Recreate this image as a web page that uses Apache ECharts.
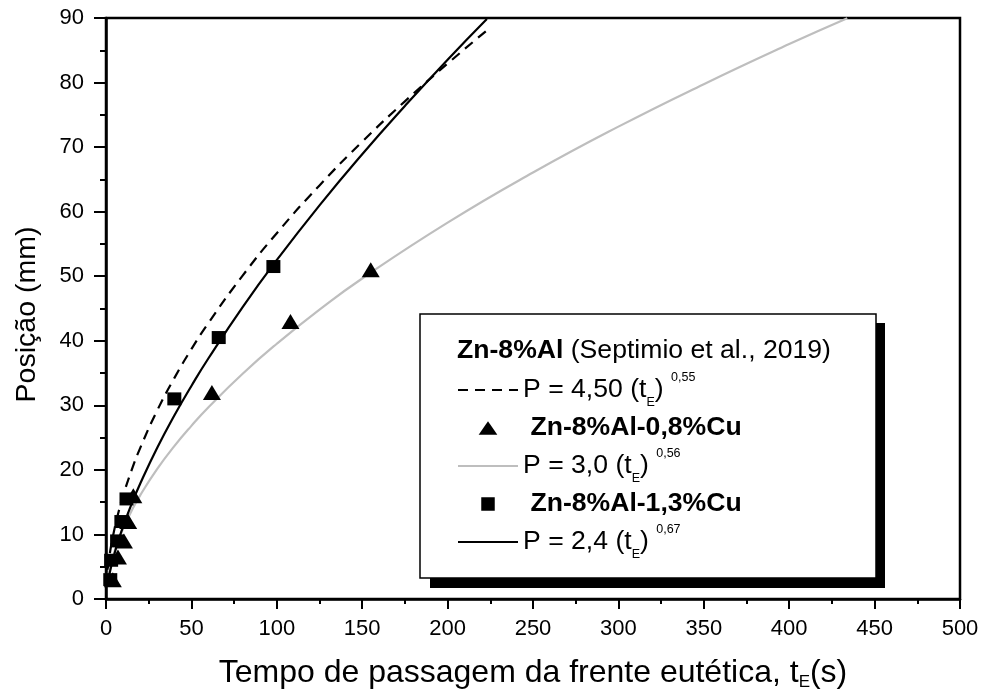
<!DOCTYPE html>
<html><head><meta charset="utf-8">
<script src="https://cdn.jsdelivr.net/npm/echarts@6/dist/echarts.min.js"></script>
<style>html,body{margin:0;padding:0;background:#fff}#c{width:984px;height:695px}</style>
</head><body><div id="c"></div>
<script>
const FONT = "'Liberation Sans', Arial, sans-serif";

// Measured points (Zn-8%Al-0,8%Cu : triangles)
const triTime = [4, 7, 10.5, 13, 16, 62, 108, 155];
const triPos  = [3, 6.5, 9, 12, 16, 32, 43, 51];
// Measured points (Zn-8%Al-1,3%Cu : squares)
const sqTime = [2.5, 3, 6.5, 9, 12, 40, 66, 98];
const sqPos  = [3, 6, 9, 12, 15.5, 31, 40.5, 51.5];

// Fitted curves
const dashT = [1,2,3,5,7,10,15,20,30,40,50,60,80,100,125,150,175,200,224];
const dashP = [4.50,6.59,8.24,10.90,13.12,15.97,19.95,23.38,29.22,34.22,38.70,42.77,50.10,56.67,64.07,70.83,77.09,82.94,88.30];
const grayT = [1,2,3,5,7,10,15,20,30,40,50,60,80,100,125,150,200,250,300,350,400,434];
const grayP = [3.00,4.42,5.55,7.39,8.92,10.89,13.67,16.06,20.15,23.68,26.82,29.70,34.90,39.54,44.82,49.65,58.30,66.06,73.17,79.75,85.96,89.97];
const blackT = [1,2,3,5,7,10,15,20,30,40,50,60,80,100,125,150,175,200,223];
const blackP = [2.40,3.82,5.01,7.06,8.84,11.22,14.73,17.86,23.43,28.42,33.00,37.29,45.22,52.51,60.98,68.90,76.37,83.55,89.86];

const legendNames = ['P = 4,50 (tE) 0,55', 'Zn-8%Al-0,8%Cu', 'P = 3,0 (tE) 0,56', 'Zn-8%Al-1,3%Cu', 'P = 2,4 (tE) 0,67'];
const legendRichText = [
  'P = 4,50 (t{sub|E}) {sup|0,55}',
  ' {b|Zn-8%Al-0,8%Cu}',
  'P = 3,0 (t{sub|E}) {sup|0,56}',
  ' {b|Zn-8%Al-1,3%Cu}',
  'P = 2,4 (t{sub|E}) {sup|0,67}'
];
const headerBold = 'Zn-8%Al';
const headerRest = ' (Septimio et al., 2019)';
const xTitle = 'Tempo de passagem da frente eutética, t{sub|E}(s)';
const yTitle = 'Posição (mm)';

function zip(a, b) { return a.map((v, i) => [v, b[i]]); }

const hideSym = {color: 'rgba(0,0,0,0)', borderWidth: 0, opacity: 0};
const legendData = [
  {name: legendNames[0], itemStyle: hideSym},
  {name: legendNames[1], icon: 'path://M0,13 L9,0 L18,13 Z'},
  {name: legendNames[2], itemStyle: hideSym},
  {name: legendNames[3], icon: 'path://M0,0 L12,0 L12,12 L0,12 Z'},
  {name: legendNames[4], itemStyle: hideSym}
];

const chart = echarts.init(document.getElementById('c'), null, {renderer: 'canvas'});
const option = {
  backgroundColor: '#fff',
  animation: false,
  grid: {left: 106, right: 24, top: 18, bottom: 96, show: true, borderColor: '#000', borderWidth: 2.5, containLabel: false, outerBoundsMode: 'none'},
  xAxis: {
    type: 'value', min: 0, max: 500, interval: 50,
    name: xTitle, nameLocation: 'middle', nameGap: 56,
    nameTextStyle: {
      fontFamily: FONT, fontSize: 32, lineHeight: 36, color: '#000',
      rich: {sub: {fontFamily: FONT, fontSize: 17, lineHeight: 7, verticalAlign: 'bottom', color: '#000'}}
    },
    axisLine: {onZero: false, lineStyle: {color: '#000', width: 2.5}},
    axisTick: {inside: false, length: 10, lineStyle: {color: '#000', width: 2}},
    minorTick: {show: true, splitNumber: 2, length: 5, lineStyle: {color: '#000', width: 2}},
    axisLabel: {margin: 18, fontFamily: FONT, fontSize: 22, lineHeight: 24, color: '#000'},
    splitLine: {show: false}, minorSplitLine: {show: false}
  },
  yAxis: {
    type: 'value', min: 0, max: 90, interval: 10,
    name: yTitle, nameLocation: 'middle', nameGap: 64,
    nameTextStyle: {fontFamily: FONT, fontSize: 28.5, color: '#000', padding: [0, 12, 0, 0]},
    axisLine: {onZero: false, lineStyle: {color: '#000', width: 2.5}},
    axisTick: {inside: false, length: 12, lineStyle: {color: '#000', width: 2}},
    minorTick: {show: true, splitNumber: 2, length: 6, lineStyle: {color: '#000', width: 2}},
    axisLabel: {margin: 22, fontFamily: FONT, fontSize: 22, color: '#000'},
    splitLine: {show: false}, minorSplitLine: {show: false}
  },
  legend: {
    show: true, orient: 'vertical', left: 457, top: 371, padding: 0,
    itemWidth: 60, itemHeight: 13.5, itemGap: 0, z: 20,
    symbolKeepAspect: true,
    selectedMode: false,
    data: legendData,
    formatter: function (name) { return legendRichText[legendNames.indexOf(name)]; },
    textStyle: {
      fontFamily: FONT, fontSize: 26.6, lineHeight: 38, color: '#000',
      rich: {
        b: {fontFamily: FONT, fontSize: 26.6, lineHeight: 38, fontWeight: 'bold', color: '#000'},
        sub: {fontFamily: FONT, fontSize: 12.5, lineHeight: 14, verticalAlign: 'bottom', color: '#000'},
        sup: {fontFamily: FONT, fontSize: 12.5, lineHeight: 14, verticalAlign: 'top', color: '#000'}
      }
    }
  },
  graphic: [
    {type: 'rect', z: 10, shape: {x: 430, y: 323, width: 455, height: 265}, style: {fill: '#000'}},
    {type: 'rect', z: 11, shape: {x: 420, y: 314, width: 456, height: 264}, style: {fill: '#fff', stroke: '#000', lineWidth: 1.5}},
    {type: 'text', z: 12, x: 457, y: 351, style: {
      text: '{b|' + headerBold + '}' + headerRest,
      fontFamily: FONT, fontSize: 26.6, fill: '#000', verticalAlign: 'middle',
      rich: {b: {fontFamily: FONT, fontSize: 26.6, fontWeight: 'bold', fill: '#000'}}
    }}
  ],
  series: [
    {name: legendNames[0], type: 'line', data: zip(dashT, dashP), symbol: 'none', smooth: true, z: 2,
     lineStyle: {color: '#000', width: 2.2, type: [10, 7]}, itemStyle: {color: '#000'}},
    {name: legendNames[1], type: 'scatter', data: zip(triTime, triPos), symbol: 'triangle', symbolSize: [18, 15], z: 4,
     itemStyle: {color: '#000', opacity: 1}},
    {name: legendNames[2], type: 'line', data: zip(grayT, grayP), symbol: 'none', smooth: true, z: 2,
     lineStyle: {color: '#bebebe', width: 2.2}, itemStyle: {color: '#bebebe'}},
    {name: legendNames[3], type: 'scatter', data: zip(sqTime, sqPos), symbol: 'rect', symbolSize: [14, 13], z: 4,
     itemStyle: {color: '#000', opacity: 1}},
    {name: legendNames[4], type: 'line', data: zip(blackT, blackP), symbol: 'none', smooth: true, z: 2,
     lineStyle: {color: '#000', width: 2.2}, itemStyle: {color: '#000'}}
  ]
};
chart.setOption(option);
</script>
</body></html>
